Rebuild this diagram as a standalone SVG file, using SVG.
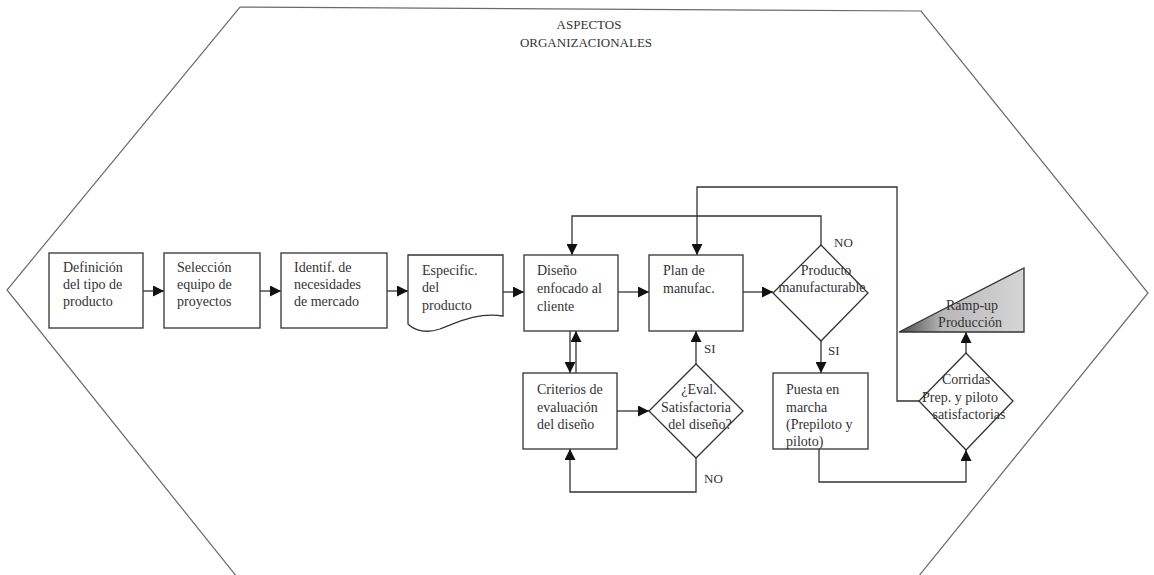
<svg xmlns="http://www.w3.org/2000/svg" width="1154" height="575" viewBox="0 0 1154 575">
  <style>
    .frame { fill: none; stroke: #6a6a6a; stroke-width: 1.2; }
    .box { fill: #ffffff; stroke: #333333; stroke-width: 1.3; }
    .conn { fill: none; stroke: #333333; stroke-width: 1.3; }
    .t { font-family: "Liberation Serif", "Times New Roman", serif; font-size: 14px; fill: #333333; }
    .title { font-family: "Liberation Serif", "Times New Roman", serif; font-size: 13px; fill: #333333; text-anchor: middle; }
    .c { text-anchor: middle; }
    .lbl { font-family: "Liberation Serif", "Times New Roman", serif; font-size: 13px; fill: #333333; }
  </style>
  <defs>
    <marker id="arrow" viewBox="0 0 10 10" refX="10" refY="5" markerWidth="11" markerHeight="11" markerUnits="userSpaceOnUse" orient="auto">
      <path d="M0,0 L10,5 L0,10 z" fill="#111111"/>
    </marker>
    <linearGradient id="rampFill" x1="0" y1="0" x2="1" y2="0">
      <stop offset="0" stop-color="#4a4a4a"/>
      <stop offset="0.35" stop-color="#b8b8b8"/>
      <stop offset="1" stop-color="#d6d6d6"/>
    </linearGradient>
  </defs>

  <rect width="1154" height="575" fill="#ffffff"/>

  <!-- outer organisational frame -->
  <g id="frame">
    <polygon class="frame" points="240,7 921,11 1148,293 918,577 237,577 7,290"/>
    <text class="title" x="589" y="29">ASPECTOS</text>
    <text class="title" x="586" y="47">ORGANIZACIONALES</text>
  </g>

  <!-- connectors -->
  <g id="connectors">
    <path class="conn" d="M143,291 H164" marker-end="url(#arrow)"/>
    <path class="conn" d="M260,291 H281" marker-end="url(#arrow)"/>
    <path class="conn" d="M387,291 H408" marker-end="url(#arrow)"/>
    <path class="conn" d="M503,292 H524" marker-end="url(#arrow)"/>
    <path class="conn" d="M618,292 H649" marker-end="url(#arrow)"/>
    <path class="conn" d="M743,292 H773" marker-end="url(#arrow)"/>
    <path class="conn" d="M821,245 V216 H572 V255" marker-end="url(#arrow)"/>
    <path class="conn" d="M919,401 H897 V187 H697 V255" marker-end="url(#arrow)"/>
    <path class="conn" d="M821,341 V373" marker-end="url(#arrow)"/>
    <path class="conn" d="M570,331 V373" marker-end="url(#arrow)"/>
    <path class="conn" d="M576,373 V331" marker-end="url(#arrow)"/>
    <path class="conn" d="M617,411 H649" marker-end="url(#arrow)"/>
    <path class="conn" d="M696,364 V331" marker-end="url(#arrow)"/>
    <path class="conn" d="M696,458 V492 H570 V449" marker-end="url(#arrow)"/>
    <path class="conn" d="M819,449 V482 H966 V450" marker-end="url(#arrow)"/>
    <path class="conn" d="M966,353 V332" marker-end="url(#arrow)"/>
    <text class="lbl" x="834" y="247">NO</text>
    <text class="lbl" x="828" y="355">SI</text>
    <text class="lbl" x="704" y="353">SI</text>
    <text class="lbl" x="704" y="483">NO</text>
  </g>

  <g id="definicion">
    <rect class="box" x="49" y="253" width="94" height="75"/>
    <text class="t" x="63" y="272">Definición</text>
    <text class="t" x="63" y="289">del tipo de</text>
    <text class="t" x="63" y="306">producto</text>
  </g>

  <g id="seleccion">
    <rect class="box" x="164" y="253" width="96" height="75"/>
    <text class="t" x="177" y="272">Selección</text>
    <text class="t" x="177" y="289">equipo de</text>
    <text class="t" x="177" y="306">proyectos</text>
  </g>

  <g id="identif">
    <rect class="box" x="281" y="253" width="106" height="75"/>
    <text class="t" x="294" y="272">Identif. de</text>
    <text class="t" x="294" y="289">necesidades</text>
    <text class="t" x="294" y="306">de mercado</text>
  </g>

  <g id="especific">
    <path class="box" d="M408,255 H503 V316 C478,312 458,322 440,329 C425,334 414,330 408,324 Z"/>
    <text class="t" x="422" y="275">Especific.</text>
    <text class="t" x="422" y="292">del</text>
    <text class="t" x="422" y="310">producto</text>
  </g>

  <g id="diseno">
    <rect class="box" x="524" y="255" width="94" height="76"/>
    <text class="t" x="537" y="275">Diseño</text>
    <text class="t" x="537" y="293">enfocado al</text>
    <text class="t" x="537" y="311">cliente</text>
  </g>

  <g id="plan">
    <rect class="box" x="649" y="255" width="94" height="76"/>
    <text class="t" x="663" y="275">Plan de</text>
    <text class="t" x="663" y="293">manufac.</text>
  </g>

  <g id="producto-manufacturable">
    <polygon class="box" points="821,245 868,293 821,341 773,293"/>
    <text class="t c" x="826" y="275">Producto</text>
    <text class="t c" x="822" y="292">manufacturable</text>
  </g>

  <g id="criterios">
    <rect class="box" x="523" y="373" width="94" height="76"/>
    <text class="t" x="537" y="394">Criterios de</text>
    <text class="t" x="537" y="412">evaluación</text>
    <text class="t" x="537" y="429">del diseño</text>
  </g>

  <g id="evaluacion">
    <polygon class="box" points="696,364 743,411 696,458 649,411"/>
    <text class="t c" x="699" y="394">¿Eval.</text>
    <text class="t c" x="696" y="412">Satisfactoria</text>
    <text class="t c" x="700" y="429">del diseño?</text>
  </g>

  <g id="puesta">
    <rect class="box" x="773" y="373" width="95" height="76"/>
    <text class="t" x="786" y="394">Puesta en</text>
    <text class="t" x="786" y="412">marcha</text>
    <text class="t" x="786" y="429">(Prepiloto y</text>
    <text class="t" x="786" y="446">piloto)</text>
  </g>

  <g id="corridas">
    <polygon class="box" points="966,353 1013,401 966,450 919,401"/>
    <text class="t c" x="966" y="384">Corridas</text>
    <text class="t c" x="960" y="402">Prep. y piloto</text>
    <text class="t c" x="969" y="419">satisfactorias</text>
  </g>

  <g id="ramp-up">
    <polygon points="899,332 1024,268 1024,332" fill="url(#rampFill)" stroke="#333333" stroke-width="1.3"/>
    <text class="t c" x="972" y="310">Ramp-up</text>
    <text class="t c" x="970" y="327">Producción</text>
  </g>
</svg>
